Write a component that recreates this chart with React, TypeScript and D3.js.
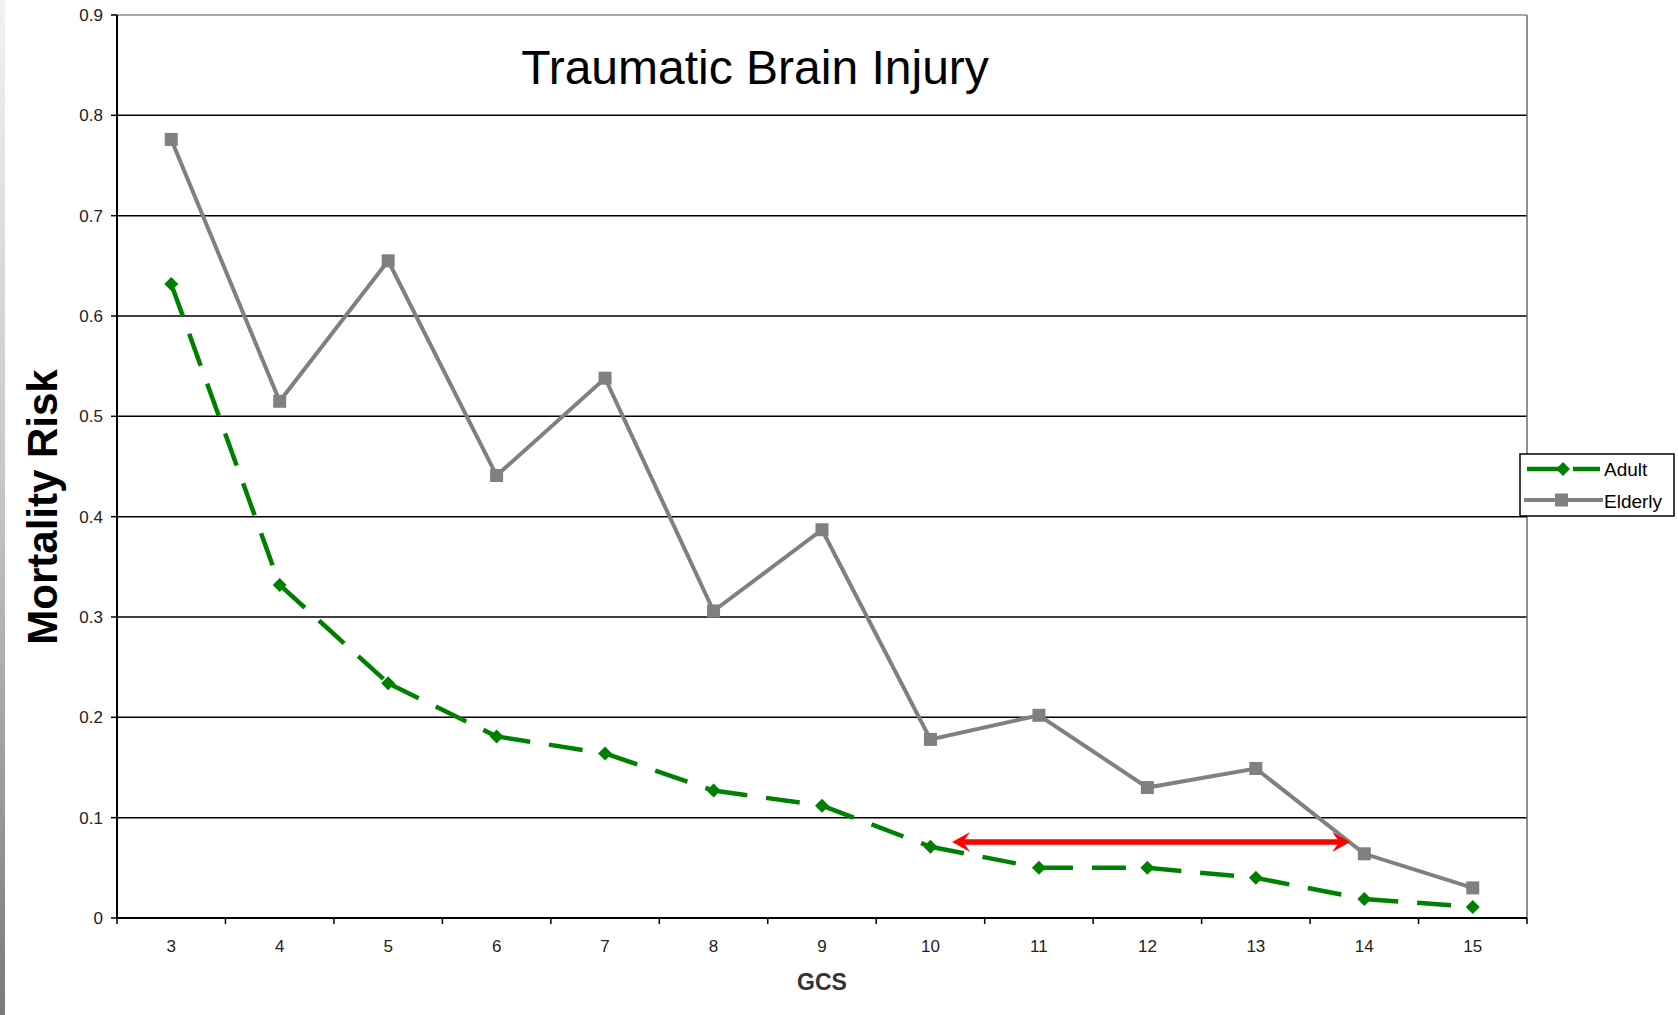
import React from "react";
import * as d3 from "d3";

const categories = ["3", "4", "5", "6", "7", "8", "9", "10", "11", "12", "13", "14", "15"];
const adultValues = [0.632, 0.332, 0.234, 0.181, 0.164, 0.127, 0.112, 0.071, 0.05, 0.05, 0.04, 0.019, 0.011];
const elderlyValues = [0.776, 0.515, 0.655, 0.441, 0.538, 0.306, 0.387, 0.178, 0.202, 0.13, 0.149, 0.064, 0.03];
const yTicks = [0, 0.1, 0.2, 0.3, 0.4, 0.5, 0.6, 0.7, 0.8, 0.9];
const arrowFrom = 10.2;
const arrowTo = 13.87;
const arrowLevel = 0.0757;

const W = 1678;
const H = 1015;
const left = 117;
const right = 1527;
const top = 15;
const bottom = 918;
const font = "'Liberation Sans', Arial, Helvetica, sans-serif";

export default function App() {
  const x = d3.scaleBand<string>().domain(categories).range([left, right]).padding(0);
  const bw = x.bandwidth();
  const cx = (c: string) => (x(c) as number) + bw / 2;
  const xLin = d3.scaleLinear().domain([3, 15]).range([cx("3"), cx("15")]);
  const y = d3.scaleLinear().domain([0, 0.9]).range([bottom, top]);

  const adultPts: [number, number][] = categories.map((c, i) => [cx(c), y(adultValues[i])]);
  const elderPts: [number, number][] = categories.map((c, i) => [cx(c), y(elderlyValues[i])]);
  const line = d3.line();

  const boundaries = d3.range(categories.length + 1).map((i) => left + i * bw);

  const ay = y(arrowLevel);
  const ax1 = xLin(arrowFrom);
  const ax2 = xLin(arrowTo);
  const headL = 18;
  const headH = 10;
  const notch = 11;

  const diamond = (px: number, py: number, r: number) =>
    `M${px},${py - r}L${px + r},${py}L${px},${py + r}L${px - r},${py}Z`;

  return (
    <svg width={W} height={H} style={{ position: "absolute", left: 0, top: 0, background: "#fff" }}>
      <defs>
        <linearGradient id="edge" x1="0" y1="0" x2="0" y2="1">
          <stop offset="0" stopColor="#f2f2f2" />
          <stop offset="0.5" stopColor="#c4c4c4" />
          <stop offset="1" stopColor="#7a7a7a" />
        </linearGradient>
      </defs>
      <rect x={0} y={0} width={W} height={H} fill="#fff" />
      <rect x={0} y={0} width={5} height={H} fill="url(#edge)" />

      {yTicks.filter((t) => t > 0 && t < 0.9).map((t) => (
        <line key={"g" + t} x1={left} x2={right} y1={y(t)} y2={y(t)} stroke="#000" strokeWidth={1.5} />
      ))}
      <line x1={left} x2={right} y1={y(0.9)} y2={y(0.9)} stroke="#8a8a8a" strokeWidth={1.5} />
      <line x1={right} x2={right} y1={y(0.9)} y2={bottom} stroke="#6a6a6a" strokeWidth={1.5} />

      <line x1={left} x2={left} y1={top} y2={bottom} stroke="#000" strokeWidth={2} />
      <line x1={left} x2={right} y1={bottom} y2={bottom} stroke="#000" strokeWidth={2} />
      {yTicks.map((t) => (
        <g key={"yt" + t}>
          <line x1={left - 6} x2={left} y1={y(t)} y2={y(t)} stroke="#000" strokeWidth={1.5} />
          <text x={103} y={y(t)} dy="0.35em" textAnchor="end" fontSize={17} fontFamily={font} fill="#222">
            {t === 0 ? "0" : d3.format(".1f")(t)}
          </text>
        </g>
      ))}
      {boundaries.map((bx, i) => (
        <line key={"xt" + i} x1={bx} x2={bx} y1={bottom} y2={bottom + 6} stroke="#000" strokeWidth={1.5} />
      ))}
      {categories.map((c) => (
        <text key={"xl" + c} x={cx(c)} y={946} dy="0.35em" textAnchor="middle" fontSize={17} fontFamily={font} fill="#222">
          {c}
        </text>
      ))}

      <path d={line(elderPts) as string} fill="none" stroke="#808080" strokeWidth={4} />
      {elderPts.map(([px, py], i) => (
        <rect key={"e" + i} x={px - 6.5} y={py - 6.5} width={13} height={13} fill="#808080" />
      ))}

      {adultPts.slice(0, -1).map((p, i) => (
        <path
          key={"as" + i}
          d={line([p, adultPts[i + 1]]) as string}
          fill="none"
          stroke="#008000"
          strokeWidth={4.5}
          strokeDasharray="34 19"
        />
      ))}
      {adultPts.map(([px, py], i) => (
        <path key={"ad" + i} d={diamond(px, py, 7)} fill="#008000" />
      ))}

      <line x1={ax1 + notch} x2={ax2 - notch} y1={ay} y2={ay} stroke="#ff0000" strokeWidth={5.5} />
      <path
        d={`M${ax1},${ay}L${ax1 + headL},${ay - headH}L${ax1 + notch},${ay}L${ax1 + headL},${ay + headH}Z`}
        fill="#ff0000"
      />
      <path
        d={`M${ax2},${ay}L${ax2 - headL},${ay - headH}L${ax2 - notch},${ay}L${ax2 - headL},${ay + headH}Z`}
        fill="#ff0000"
      />

      <text x={755} y={67} dy="0.35em" textAnchor="middle" fontSize={48} fontFamily={font} fill="#000">
        Traumatic Brain Injury
      </text>

      <text
        transform={`translate(57,507) rotate(-90)`}
        textAnchor="middle"
        fontSize={42}
        fontWeight="bold"
        fontFamily={font}
        fill="#000"
      >
        Mortality Risk
      </text>
      <text x={822} y={982} dy="0.35em" textAnchor="middle" fontSize={23} fontWeight="bold" fontFamily={font} fill="#333">
        GCS
      </text>

      <rect x={1520} y={454} width={154} height={62} fill="#fff" stroke="#000" strokeWidth={1.5} />
      <line x1={1527} x2={1600} y1={469} y2={469} stroke="#008000" strokeWidth={4.5} strokeDasharray="34 12" />
      <path d={diamond(1563, 469, 7)} fill="#008000" />
      <text x={1604} y={469} dy="0.35em" fontSize={19} fontFamily={font} fill="#000">Adult</text>
      <line x1={1524} x2={1603} y1={500} y2={500} stroke="#808080" strokeWidth={4} />
      <rect x={1555} y={493.5} width={13} height={13} fill="#808080" />
      <text x={1604} y={501} dy="0.35em" fontSize={19} fontFamily={font} fill="#000">Elderly</text>
    </svg>
  );
}
